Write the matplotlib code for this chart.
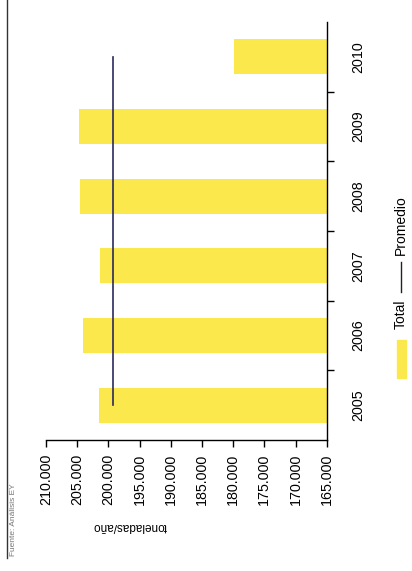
import matplotlib.pyplot as plt
from matplotlib.patches import Rectangle
from matplotlib.lines import Line2D

plt.rcParams['font.family'] = ['Liberation Sans', 'DejaVu Sans']

years = ['2005', '2006', '2007', '2008', '2009', '2010']
totals = [201500, 204100, 201300, 204500, 204700, 179900]
tick_values = [210000, 205000, 200000, 195000, 190000, 185000, 180000, 175000, 170000, 165000]
tick_labels = ['210.000', '205.000', '200.000', '195.000', '190.000',
               '185.000', '180.000', '175.000', '170.000', '165.000']

base = 165000
promedio = sum(totals) / len(totals)

fig = plt.figure(figsize=(4.12, 5.71), dpi=100)
ax = fig.add_axes([0.1117, 0.2294, 0.6813, 0.7321])

pos = list(range(len(years)))
ax.barh(pos, [v - base for v in totals], left=base, height=0.5, color='#fae84c', zorder=2)
# average line across the years
ax.plot([promedio] * len(pos), pos, color='#2b2a5e', lw=1.2, zorder=3)

ax.set_xlim(210000, 165000)
ax.set_ylim(-0.5, len(years) - 0.5)

ax.spines['left'].set_visible(False)
ax.spines['top'].set_visible(False)
ax.spines['bottom'].set_linewidth(1.0)
ax.spines['right'].set_linewidth(1.0)

ax.set_xticks(tick_values)
ax.set_xticklabels(tick_labels, rotation=90, fontsize=10.3)
ax.tick_params(axis='x', direction='out', length=5, width=1, pad=5)

ax.yaxis.tick_right()
ax.set_yticks(pos)
ax.set_yticklabels(years, rotation=90, va='center', fontsize=10.3)
ax.tick_params(axis='y', which='major', length=0, pad=18)
ax.set_yticks([p + 0.5 for p in pos[:-1]], minor=True)
ax.tick_params(axis='y', which='minor', direction='out', length=5, width=1)

# upside-down axis title
fig.text(130 / 412, 1 - 526 / 571, 'toneladas/año', rotation=180, ha='center', va='center', fontsize=8.5)

# legend drawn rotated
fig.patches.append(Rectangle((397 / 412, 1 - 378 / 571), 9 / 412, 38 / 571,
                             transform=fig.transFigure, color='#fae84c'))
fig.text(401 / 412, 1 - 314 / 571, 'Total', rotation=90, ha='center', va='center', fontsize=10)
fig.lines.append(Line2D([401 / 412, 401 / 412], [1 - 292 / 571, 1 - 262 / 571],
                        transform=fig.transFigure, color='#222222', lw=1))
fig.text(401 / 412, 1 - 225 / 571, 'Promedio', rotation=90, ha='center', va='center', fontsize=10)

# source note and left border
fig.lines.append(Line2D([7 / 412, 7 / 412], [1 - 558 / 571, 1.0],
                        transform=fig.transFigure, color='#333333', lw=1))
fig.text(14 / 412, 1 - 520 / 571, 'Fuente: Análisis EY', rotation=90, ha='center', va='center',
         fontsize=6, color='#777777')

fig.savefig('out.png', dpi=100)
